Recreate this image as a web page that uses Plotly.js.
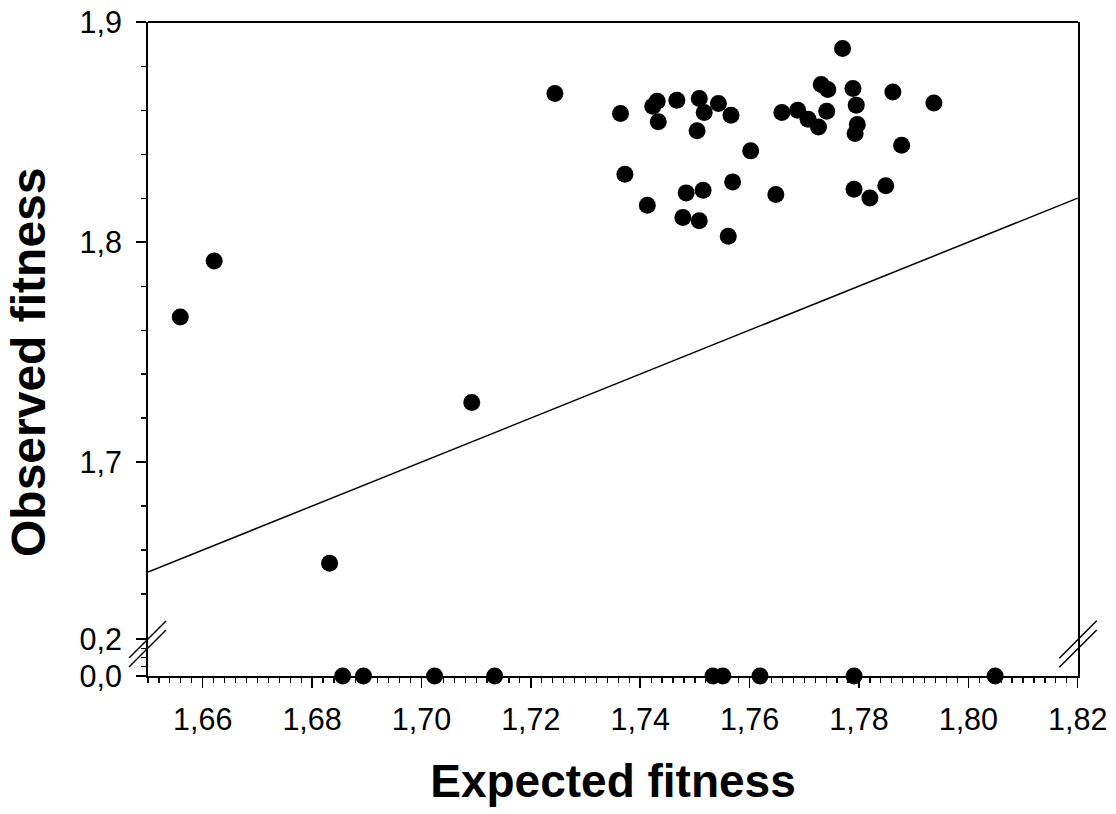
<!DOCTYPE html>
<html>
<head>
<meta charset="utf-8">
<script src="https://cdn.plot.ly/plotly-3.0.1.min.js"></script>
<style>html,body{margin:0;padding:0;background:#fff;}#chart{width:1116px;height:814px;}</style>
</head>
<body>
<div id="chart"></div>
<script>
// Points with non-zero observed fitness (upper panel)
const expectedUpper = [1.6559, 1.6621, 1.7092, 1.6832, 1.7244, 1.7364, 1.7423, 1.7431, 1.7433, 1.7467,
  1.7508, 1.7517, 1.7543, 1.7566, 1.7504, 1.7602, 1.7770, 1.7731, 1.7743, 1.7789,
  1.7862, 1.7937, 1.7795, 1.7659, 1.7688, 1.7707, 1.7726, 1.7741, 1.7797, 1.7793,
  1.7878, 1.7372, 1.7413, 1.7484, 1.7515, 1.7569, 1.7478, 1.7508, 1.7561, 1.7648,
  1.7791, 1.7820, 1.7849];
const observedUpper = [1.7660, 1.7914, 1.7271, 1.6540, 1.8676, 1.8585, 1.8618, 1.8641, 1.8547, 1.8645,
  1.8653, 1.8590, 1.8630, 1.8577, 1.8506, 1.8415, 1.8880, 1.8717, 1.8694, 1.8699,
  1.8683, 1.8633, 1.8623, 1.8590, 1.8600, 1.8559, 1.8524, 1.8595, 1.8535, 1.8494,
  1.8441, 1.8309, 1.8168, 1.8224, 1.8236, 1.8274, 1.8112, 1.8097, 1.8027, 1.8217,
  1.8241, 1.8201, 1.8256];
// Points with zero observed fitness (lower panel)
const expectedZero = [1.6856, 1.6894, 1.7024, 1.7134, 1.7533, 1.7551, 1.7619, 1.7791, 1.8049];
const observedZero = [0, 0, 0, 0, 0, 0, 0, 0, 0];
// Identity line (observed = expected)
const identityX = [1.65, 1.82];
const identityY = [1.65, 1.82];

const W = 1116, H = 814;
const mL = 148, mR = 38, mT = 22, mB = 138;
const plotW = W - mL - mR, plotH = H - mT - mB;
const splitPx = 636; // pixel row where the two y segments meet
const splitFrac = (H - mB - splitPx) / plotH;
const lowerTop = 0.2 * (H - mB - splitPx) / 37;
const upperBottom = 1.9 - (splitPx - mT) / 2200;

function px(xp) { return (xp - mL) / plotW; }
function py(yp) { return (H - mB - yp) / plotH; }
function seg(x0, y0, x1, y1) {
  return {type: 'line', xref: 'paper', yref: 'paper', x0: px(x0), y0: py(y0), x1: px(x1), y1: py(y1),
    line: {color: '#000', width: 1.5}};
}

const marker = {color: '#000', size: 17, line: {width: 0}};
const tickFont = {family: 'Liberation Sans, Arial, sans-serif', size: 30.5, color: '#000'};

const traces = [
  {x: identityX, y: identityY, xaxis: 'x', yaxis: 'y2', mode: 'lines',
   line: {color: '#000', width: 1.5}, hoverinfo: 'skip', showlegend: false, cliponaxis: false},
  {x: expectedUpper, y: observedUpper, xaxis: 'x', yaxis: 'y2', mode: 'markers', type: 'scatter',
   marker: marker, showlegend: false, cliponaxis: false},
  {x: expectedZero, y: observedZero, xaxis: 'x', yaxis: 'y', mode: 'markers', type: 'scatter',
   marker: marker, showlegend: false, cliponaxis: false}
];

const layout = {
  width: W, height: H,
  margin: {l: mL, r: mR, t: mT, b: mB, pad: 0},
  paper_bgcolor: '#fff', plot_bgcolor: '#fff',
  separators: ', ',
  showlegend: false,
  font: tickFont,
  xaxis: {
    range: [1.65, 1.82005], tick0: 1.66, dtick: 0.02, tickformat: '.2f',
    showgrid: false, zeroline: false, showline: true, linecolor: '#000', linewidth: 2,
    ticks: 'outside', ticklen: 10, tickwidth: 1.5, tickcolor: '#000',
    minor: {ticks: 'outside', ticklen: 5, tickwidth: 1.2, tickcolor: '#000', tick0: 1.65, dtick: 0.002, showgrid: false},
    tickfont: tickFont, anchor: 'y', ticklabelstandoff: 5,
    title: {text: 'Expected fitness', font: {family: 'Liberation Sans, Arial, sans-serif', size: 46, color: '#000', weight: 'bold'}, standoff: 30}
  },
  yaxis: {
    domain: [0, splitFrac], range: [0, lowerTop], tick0: 0, dtick: 0.2, tickformat: '.1f',
    showgrid: false, zeroline: false, showline: true, mirror: true, linecolor: '#000', linewidth: 2,
    ticks: 'outside', ticklen: 10, tickwidth: 1.5, tickcolor: '#000',
    minor: {ticks: 'outside', ticklen: 5, tickwidth: 1.2, tickcolor: '#000', tick0: 0, dtick: 0.05, showgrid: false},
    tickfont: tickFont, anchor: 'x', ticklabelstandoff: 8
  },
  yaxis2: {
    domain: [splitFrac, 1], range: [upperBottom, 1.9001], tick0: 1.7, dtick: 0.1, tickformat: '.1f',
    showgrid: false, zeroline: false, showline: true, mirror: true, linecolor: '#000', linewidth: 2,
    ticks: 'outside', ticklen: 10, tickwidth: 1.5, tickcolor: '#000',
    minor: {ticks: 'outside', ticklen: 5, tickwidth: 1.2, tickcolor: '#000', tick0: 1.7, dtick: 0.02, showgrid: false},
    tickfont: tickFont, anchor: 'x', ticklabelstandoff: 8
  },
  annotations: [{
    text: 'Observed fitness', xref: 'paper', yref: 'paper', x: px(28), y: py(363),
    xanchor: 'center', yanchor: 'middle', textangle: -90, showarrow: false,
    font: {family: 'Liberation Sans, Arial, sans-serif', size: 48, color: '#000', weight: 'bold'}
  }],
  shapes: [
    {type: 'line', xref: 'paper', yref: 'paper', x0: 0, x1: 1, y0: 1, y1: 1, line: {color: '#000', width: 2}},
    seg(129, 658, 166, 621), seg(129, 667, 166, 630),
    seg(1059.3, 658.3, 1096.7, 620.7), seg(1059.3, 667.3, 1096.7, 630)
  ]
};

Plotly.newPlot('chart', traces, layout, {displayModeBar: false, staticPlot: true});
</script>
</body>
</html>
